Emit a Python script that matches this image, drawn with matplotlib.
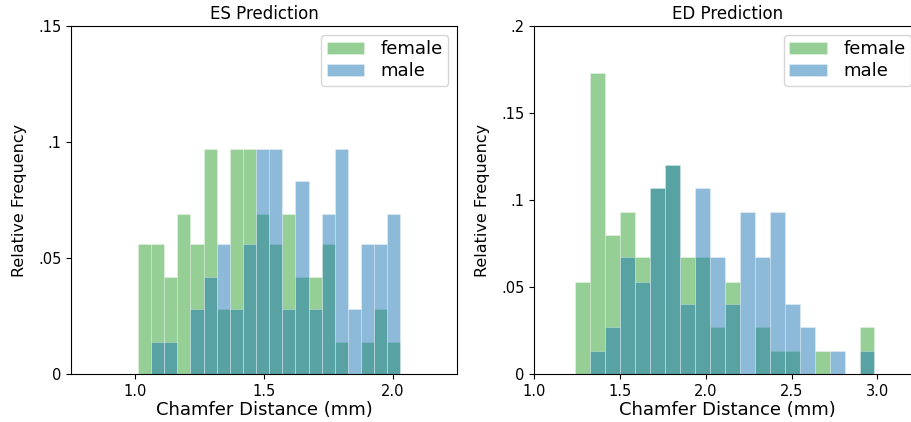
"""
ES / ED prediction error histograms (female vs male), relative frequency.
"""

import matplotlib
matplotlib.use("Agg")
import matplotlib.pyplot as plt
import numpy as np

# ES prediction: 20 bins between these edges
es_edges_range = (1.010, 2.029)
es_female = [0.056, 0.056, 0.042, 0.069, 0.056, 0.097, 0.028, 0.097, 0.097, 0.069,
             0.056, 0.069, 0.042, 0.042, 0.056, 0.014, 0.0, 0.014, 0.028, 0.014]
es_male = [0.0, 0.014, 0.014, 0.0, 0.028, 0.042, 0.056, 0.028, 0.056, 0.097,
           0.097, 0.028, 0.083, 0.028, 0.069, 0.097, 0.028, 0.056, 0.056, 0.069]

# ED prediction: 20 bins between these edges
ed_edges_range = (1.237, 2.983)
ed_female = [0.053, 0.173, 0.080, 0.093, 0.067, 0.107, 0.120, 0.067, 0.067, 0.027,
             0.053, 0.0, 0.027, 0.013, 0.013, 0.0, 0.013, 0.0, 0.0, 0.027]
ed_male = [0.0, 0.013, 0.027, 0.067, 0.053, 0.107, 0.120, 0.040, 0.107, 0.067,
           0.040, 0.093, 0.067, 0.093, 0.040, 0.027, 0.0, 0.013, 0.0, 0.013]

es_yticks = [0, 0.05, 0.1, 0.15]
es_yticklabels = ["0", ".05", ".1", ".15"]
ed_yticks = [0, 0.05, 0.1, 0.15, 0.2]
ed_yticklabels = ["0", ".05", ".1", ".15", ".2"]


def draw_hist(ax, edge_range, female, male, title, xlim, ylim, yticks, yticklabels, xticks):
    edges = np.linspace(edge_range[0], edge_range[1], len(female) + 1)
    width = edges[1] - edges[0]
    for vals, color, name in [(female, "tab:green", "female"), (male, "tab:blue", "male")]:
        ax.bar(edges[:-1], vals, width=width, align="edge", color=color,
               alpha=0.5, label=name, edgecolor=(1, 1, 1, 0.15), linewidth=0.4)
    ax.set_title(title, fontsize=12, pad=5)
    ax.set_xlabel("Chamfer Distance (mm)", fontsize=13, labelpad=1.5)
    ax.set_ylabel("Relative Frequency", fontsize=11.5, labelpad=8)
    ax.set_xlim(*xlim)
    ax.set_ylim(*ylim)
    ax.set_xticks(xticks)
    ax.set_yticks(yticks)
    ax.set_yticklabels(yticklabels)
    ax.tick_params(labelsize=10.5)
    ax.legend(fontsize=13, borderpad=0.3, labelspacing=0.22,
              handlelength=2.1, handletextpad=0.9)


fig = plt.figure(figsize=(9.12, 4.22), dpi=100)
ax1 = fig.add_axes([0.0779, 0.1137, 0.4236, 0.8246])
ax2 = fig.add_axes([0.5859, 0.1137, 0.4232, 0.8246])

draw_hist(ax1, es_edges_range, es_female, es_male, "ES Prediction",
          (0.75, 2.25), (0, 0.15), es_yticks, es_yticklabels, [1.0, 1.5, 2.0])
draw_hist(ax2, ed_edges_range, ed_female, ed_male, "ED Prediction",
          (1.0, 3.25), (0, 0.2), ed_yticks, ed_yticklabels, [1.0, 1.5, 2.0, 2.5, 3.0])

fig.savefig("out.png", dpi=100)
plt.close(fig)
